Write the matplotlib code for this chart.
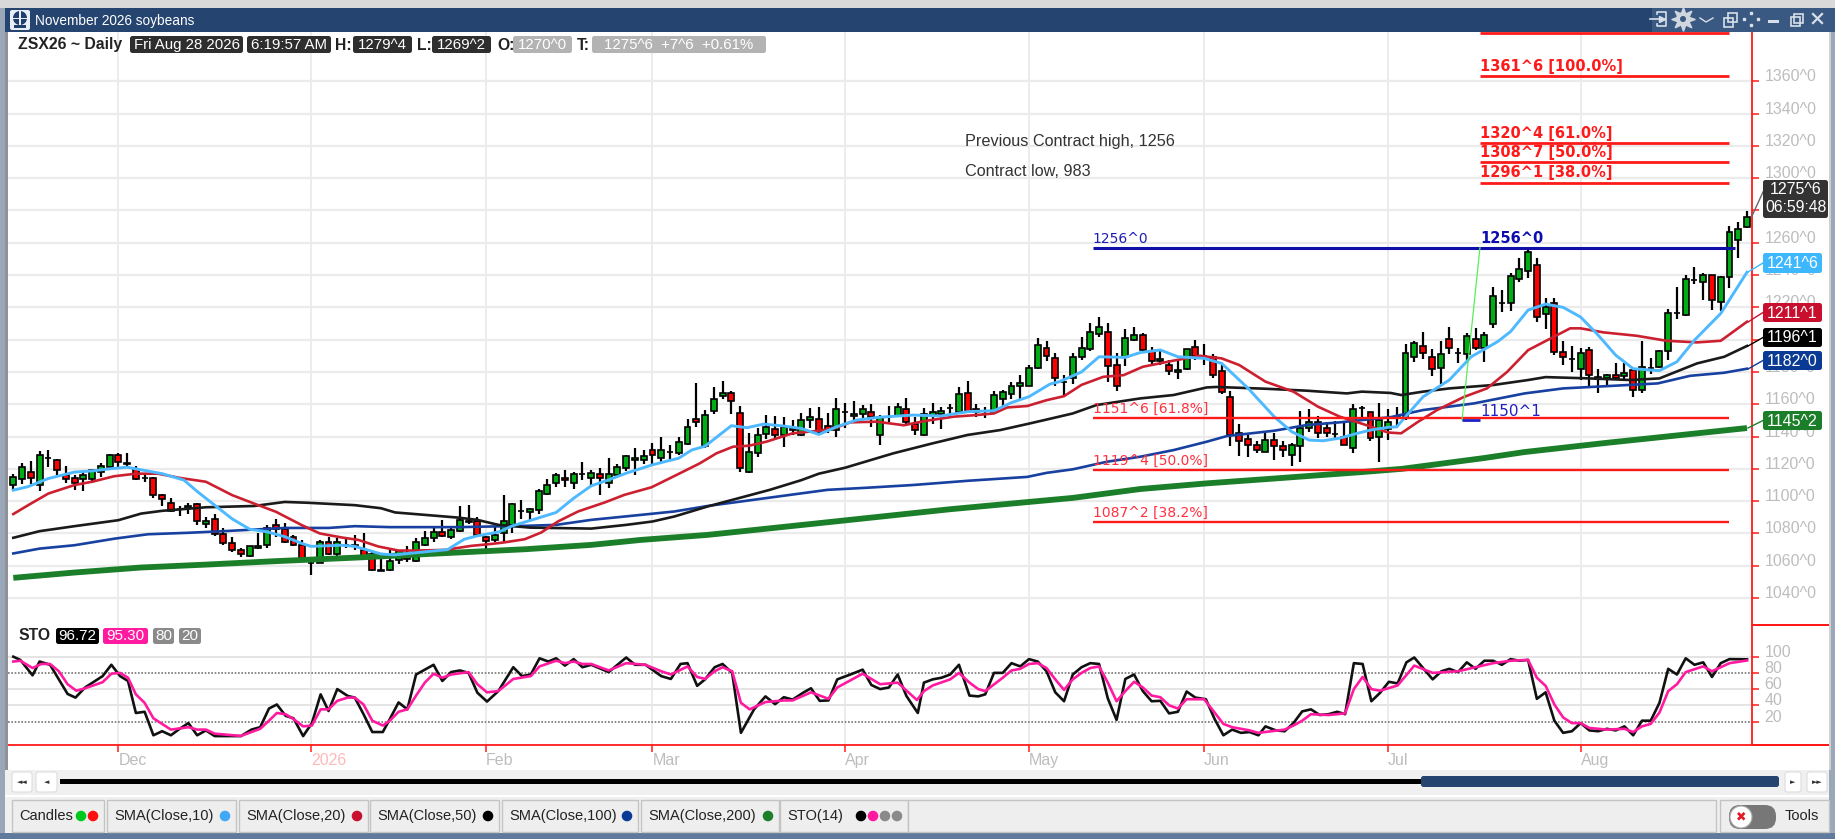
import numpy as np
import matplotlib
matplotlib.use('Agg')
import matplotlib.pyplot as plt
from matplotlib.patches import FancyBboxPatch, Rectangle, Circle
from matplotlib.transforms import ScaledTranslation

plt.rcParams['font.family'] = ['Liberation Sans', 'DejaVu Sans']

# daily candles
opens = [1110,1113.5,1118,1110,1127,1125.5,1116,1114.5,1113.5,1113.5,
         1118,1121,1128.5,1123.5,1120,1114.5,1114.5,1103.5,1099,1095,
         1095.5,1098,1086,1089,1079.5,1074,1069.5,1066,1071,1073,
         1085.5,1083,1077.5,1073,1062,1062,1074.5,1067,1073,1072,
         1070,1067,1057.5,1057.5,1063.5,1064,1063,1073,1077,1081,
         1077.5,1081.5,1087,1087.5,1077.5,1076,1080,1085,1094,1093,
         1094.5,1104.5,1111,1114.5,1111.5,1116.5,1114.5,1117,1111.5,1116,
         1120.5,1125.5,1125.5,1131.5,1127,1130.5,1129.5,1135.5,1151,1134,
         1156,1165,1167,1154.5,1118,1130,1141.5,1144.5,1141,1145.5,
         1141,1150,1151,1146.5,1144,1155,1152.5,1154,1155.5,1141,
         1152,1152.5,1157,1148,1141,1153,1154,1157.5,1155,1167,
         1157,1154,1155.5,1163,1166.5,1171,1171.5,1182.5,1195,1188.8,
         1174,1176,1189,1194,1203.5,1205,1184,1189,1200,1203,
         1193,1186.5,1184.5,1180,1182,1195.5,1190,1189,1180.5,1164.5,
         1142,1138.5,1135,1130.5,1138,1134,1128.5,1134,1145.5,1149,
         1145,1141.5,1140,1133,1157.5,1155,1140,1144.5,1151.5,1153,
         1189.5,1196,1189.5,1182.5,1200.3,1191.5,1191,1200.3,1195,1209.6,
         1222.4,1222.8,1237.3,1242.3,1246.2,1215.8,1222.8,1192.5,1187.8,1181.8,
         1193.5,1177,1176,1178,1177.4,1181,1168.8,1182.2,1183.2,1193,
         1216.2,1215.2,1237,1235.9,1240,1223.3,1238.5,1261.7,1270]
highs = [1117,1123.5,1125,1131,1131.5,1126,1122,1116,1118,1119,
         1123.5,1129,1129.5,1130,1121.5,1117,1115,1104.5,1102,1097,
         1099,1099,1090,1092,1083.5,1078,1071,1072,1080,1085,
         1089,1086.5,1079,1076,1065,1076,1078,1077,1076.5,1079,
         1080,1070,1064.5,1070,1070,1072.5,1077,1081.5,1084.5,1088.5,
         1084.5,1097,1097.5,1090,1078.5,1084,1104,1099,1101,1096,
         1107.5,1114,1117.5,1119,1118,1124.5,1119,1120.5,1127,1123,
         1128.5,1133,1131.5,1136,1139.5,1135,1139.5,1151,1173,1156.5,
         1170.5,1174.5,1168,1159,1142,1145,1153.5,1152.5,1152,1150,
         1154.5,1157.5,1158,1154.5,1164,1160.5,1162,1159.5,1160,1153.5,
         1159,1160.5,1164,1152,1157.5,1161,1158,1160,1170.5,1174.5,
         1160,1158,1168,1169,1173.5,1178,1184.5,1201,1199,1191.5,
         1178,1191.5,1201.5,1210.5,1214,1210.5,1192,1206.5,1208,1204,
         1195.5,1194,1187.5,1187.5,1194.5,1199.5,1197.5,1191,1184,1168,
         1147.5,1141,1137,1142,1142,1137,1136,1156,1157,1152.5,
         1149,1149.5,1149,1160,1159,1155,1161,1157,1158.5,1197.5,
         1199,1204.5,1194.5,1199,1207.6,1194.6,1204,1207,1205,1232.3,
         1231,1241,1250.3,1256.5,1250.3,1225.5,1225.5,1199,1196,1194.6,
         1195.2,1181.6,1179,1185.3,1185.3,1181,1199,1188.4,1193.5,1218.7,
         1232.3,1240,1244.7,1241,1240,1239.4,1270.3,1272.6,1279.5]
lows = [1107,1110.5,1110.5,1106,1121,1116,1111,1107,1106,1111,
        1115,1120,1120,1121,1113,1112,1102,1097,1093,1090.5,
        1092,1085.5,1083.5,1078.5,1073,1068.5,1065.5,1065.5,1070.5,1071,
        1078,1074,1072.5,1065,1054.5,1062,1066.5,1066,1071,1070,
        1066,1057,1056.5,1057,1061,1062.5,1062.5,1072.5,1075,1077.5,
        1076.5,1081,1086,1078.5,1070.5,1074.5,1075,1080,1089,1087.5,
        1092,1103.5,1109,1109,1107.5,1113,1109.5,1103.5,1108,1115.5,
        1118.5,1116,1123,1123,1124.5,1126,1128.5,1135,1146,1133,
        1154,1163,1154,1118,1117.5,1127.5,1138.5,1139,1133.5,1141,
        1140.5,1145,1141,1142,1140,1145,1150.5,1150.5,1146,1134.5,
        1149,1152,1148,1141,1140.5,1148,1144.5,1153,1155,1155.5,
        1152,1151.5,1154.5,1159,1163.5,1163.5,1171,1182,1186.5,1171.3,
        1165.5,1172.5,1187.5,1193,1201.5,1174,1168.5,1183.5,1199,1193,
        1185,1184,1178,1175.5,1181.5,1187.5,1184.5,1176.5,1166.5,1134,
        1128,1127.5,1129.5,1130.5,1125.5,1127.5,1121.5,1124,1143,1139,
        1140,1139,1134.5,1130,1150,1137,1124.5,1138,1146,1150,
        1186,1188,1177.5,1172.5,1191,1185.3,1185.3,1193.5,1186.3,1207.4,
        1217.3,1218,1235.9,1238,1211,1206.3,1190.5,1184,1180,1175,
        1170.8,1167,1170.8,1175,1175,1164.6,1167,1179,1182.2,1187.3,
        1212.5,1214.6,1234.4,1224.5,1218.3,1217.7,1231.7,1250.7,1269.25]
closes = [1115,1121,1114.5,1128.5,1127,1119,1113.5,1111.5,1116,1119,
          1122,1128.5,1124.5,1123,1113.5,1114.5,1103.5,1101.5,1094,1095,
          1097,1088,1088,1079.5,1074,1070,1067,1072,1072.5,1083.5,
          1083,1075,1073,1065,1062,1074.5,1067,1074.5,1073,1073,
          1066,1057.5,1057,1063,1069,1066,1074.5,1077,1081,1078.5,
          1082,1088.5,1087.5,1079,1075.5,1079,1087.5,1098.5,1094,1095,
          1106.5,1110,1116,1113,1117,1116.5,1117.5,1114.5,1117,1121,
          1128,1127,1128,1128.5,1131.5,1130.5,1136.5,1146,1149,1153.5,
          1163,1167,1162,1120.5,1130.5,1141,1146,1141,1146,1144,
          1150,1152,1143,1144,1157,1155.5,1154,1157,1152,1152,
          1152,1158,1149,1144,1154,1155,1156,1157.5,1166.5,1155.5,
          1155.5,1154,1165.5,1167.5,1171,1173,1182.5,1196.5,1190,1176,
          1174,1189.5,1195,1205,1208,1183.5,1171,1201,1203,1193.5,
          1186.5,1188,1180.5,1181.5,1194.5,1190,1190,1178,1167.5,1141,
          1137,1135,1131.5,1138,1134,1131.5,1134.5,1145.5,1149,1142.5,
          1142,1141.5,1134.5,1157,1157.5,1139,1150,1149,1152,1192,
          1198,1192,1182,1191,1195,1191.5,1202,1195,1203,1227,
          1222.4,1239.4,1244,1254,1213.8,1220,1192.5,1189,1187.8,1192,
          1178,1175.6,1178,1176.4,1179.5,1168.8,1183.2,1182.2,1193,1216.2,
          1216.2,1237.5,1237,1240,1224.5,1238.5,1266.4,1268.5,1275.75]

# moving averages, read at the bends of each line
sma10_x = [1,2.7,5,8,10,12,14,16,18,20.5,22,24,26,28,30,32,34,35,38.5,40,43,44.5,50.6,52.5,54,56.5,58,60.5,63,65,
           67,69,71,74,77,78.5,80,83,84.8,86.7,89,91,93,95,97.3,100,103.8,106.9,110,113,115,117,119.4,120.5,123,125,128,
           129.7,132,134,137,139,142,145,147,149,150.6,152.5,154.5,156,158,159,160,162,165,167.5,170.5,172,174,176,178,
           180,182,184,186,189,191,193,196,199]
sma10_y = [1106.8,1109,1114,1118,1118.7,1120,1121,1119,1117,1113,1106,1097.5,1089,1082.6,1081,1078,1073.7,1072,1072.7,1072,1067.3,1066.7,1070,1076.4,1078.5,1081,1084.7,1088.8,1093,1101.8,
           1109.5,1113.2,1117.3,1122.5,1126.6,1131.7,1134,1146.7,1145.5,1147.7,1146.5,1145,1141.3,1146,1150.2,1152,1153.3,1152.7,1155.4,1156,1161,1164.7,1172.5,1174,1180,1189.4,1189,
           1192,1193.6,1189.4,1188.4,1185.3,1170,1152.3,1143,1137.8,1137.4,1139,1142,1144,1145.7,1146,1152.3,1164.6,1175,1189.4,1198.7,1205,1218.3,1222,1220,
           1214,1202.8,1190.4,1182,1180.8,1186.3,1199.7,1216.2,1241.75]
sma20_x = [1,2.7,5,8,10,12.5,15,17.5,20,23,26,28.5,31,34,36,38.5,40.4,42.7,45,47,50.3,53.3,55.6,57,59.4,61.3,63.2,65.5,68.5,70.8,73.9,77,
           79.4,81.3,83.2,85,87,90,93,94.7,96.6,99.6,102.7,105.3,108.4,111,113,114.5,116.8,119,121,123,125.5,127.8,130,133.5,136.5,139,141,144,147.2,150,152.5,155,158,
           159.5,161.4,163.6,166.7,169.3,171.6,174,176.2,178.8,180,182.6,186.4,189.8,193.3,196,199]
sma20_y = [1092,1097.5,1104.7,1110,1112,1115.4,1117,1117,1114.4,1112,1103.7,1098.5,1093.4,1085,1080,1077.5,1076,1071.9,1069.4,1069.4,1069.8,1072.3,1073.5,1074.4,1076.4,1080.6,1087.4,1093.6,1099.1,1103.9,1108.6,1116.9,
           1123.4,1129.6,1133.7,1134.3,1136.8,1142,1143.6,1145,1148.8,1149.2,1147,1149.8,1152.3,1153.3,1154.3,1158,1158.9,1162.5,1165,1172,1177,1178,1183.2,1187,1190,1188.4,1184.3,1174,1167.8,1158.5,1152.3,1148,1142.5,
           1142,1149,1156.4,1164.6,1169.8,1180,1193.5,1199.7,1207,1207,1204.5,1202.4,1199.3,1198.3,1199.3,1211.1]
sma50_x = [1,4,8,13,15.6,18,23,28.5,32,34.6,40,43,44.6,48,51.8,54,56.4,60,67,71,74,76.5,80.3,87.4,91,93,96,101.5,106,110,113.7,117,119.4,122,124.7,129.7,133.5,137.3,138.4,144,148.7,153.3,155,158.3,
           159.5,162,165,170,174,176,181,185.7,189,193.3,196.4,199]
sma50_y = [1077.3,1081.4,1084.5,1088.2,1092.3,1094,1096.2,1097,1099.5,1099,1097.5,1095.6,1093,1091.5,1089.8,1088.4,1085.3,1083.6,1083,1085.3,1087.4,1090.5,1096.7,1107,1113,1117,1120.7,1129.6,1135.8,1141,1144,1148,1151,1154.3,1159.5,1163.6,1165.7,1170.4,1170.7,1169.6,1168.4,1166.7,1167.8,1167,
           1165.7,1167.8,1169.8,1171.9,1175,1176.8,1176,1175,1176,1185.3,1189.4,1196.1]
sma100_x = [1,4,8,12.6,16.4,21,25,28.5,32,37,40,44,51.8,59.4,63,67,71.6,76.5,80.3,94,98.5,103.8,110,116.8,119,122,125.9,129.7,133.5,137.3,139.6,145,148.7,152.5,158.3,162,167.8,173.6,178,184,188.8,192.5,196.4,199]
sma100_y = [1067.6,1070.6,1072.7,1076.8,1079.5,1080.4,1081.4,1082.4,1083.4,1083.4,1084.5,1083.9,1083.9,1084.7,1085.3,1088.4,1090.9,1093.6,1097,1107,1108.3,1110,1112.6,1115,1117.5,1119.7,1124.4,1127.5,1131.6,1136.8,1140.3,1143.6,1147.1,1148.8,1152,1156.4,1160.5,1166.7,1169.8,1171.5,1172.9,1177.6,1179.5,1182]
sma200_x = [1,8,15.6,23,30.8,40,51.8,59.4,67,72.7,80.3,95,108,122,129.7,137.3,145,155,159.6,169,173.6,182.8,199]
sma200_y = [1052.5,1055.8,1058.9,1060.7,1062.8,1065,1068.2,1070.2,1072.9,1076,1079.1,1087.5,1095,1102,1107.5,1111,1114,1118,1120,1126.7,1130.4,1136,1145.25]

# stochastic, read at the bends
sto_k_x = [1,1.8,3.2,4,5.2,6.2,7.2,8.1,9.2,11.2,12.2,13.2,14.1,15,16,17,18,19,20,21,22,23,24,27,28.2,29.2,30.2,31.1,32.1,33,34.1,35.1,36.1,37,38,39.2,40,41,42,43.2,44,45,46,47,49,50,51,52,53,54,55.1,56.4,58.1,59.1,60.1,61.1,62.1,63,64,65,66,67,69,71,72,73.2,75,76.1,77.2,78,79.1,80,81.1,82,83.1,84.1,85.6,86.9,88,89,90,91.2,92.1,93.1,94.1,95.1,96.6,98,99,100,101,102,103,
           104.3,105,106,107,108,109,110.2,111.2,112,113,114,115,116,117,118,119,120,121,122,123,124,125,126,127,128,129,130,131,132,133,134,135,136,137.2,138.2,139.2,140.2,141.2,142.2,143.2,144,145.2,146.2,147.2,148.2,149.2,150.2,151.2,152.2,153.1,154.1,155.1,156.1,157.1,158.1,159.1,160.1,161,162,163.1,164.1,165,166,167,168,169,170,171,172,173,174,175,176,177,178,179,180,181,182,183,184,185,186,187,188,189,190,191,192,193,194,195,196,197,199]
sto_k_y = [100,96,77,94,90,72,54,49.5,62,76,90,76,70,30.5,32,3,8,3,11,18,3,9,2,2,10,13,36,41,27,24,2,18,53.5,33,60,51.5,49.5,29,7,7,23,43.5,35,78,90,70,81,83,80,55.5,44.6,57.6,87,76,78,98,94,98,89,97,87,90,81,99,90,90,76,72.5,91,92,64,72,87,91,80,6,35,51,41.4,50,47,55.5,61,45.5,46,72,78,84,65,60,62,78,51.5,
           30.5,68,72,74,78,90,52,51,53.5,80,80,92,88,97,94,82,56,45,78,87,92,91,48.5,22,72.5,78,57.5,45,45.5,30,32,57,49.5,47.5,23,3,10,6,7,3,14,9,8,18,32.5,35,28,29,32,29,92,91,45,55.5,69,67,93,99,86,72,82,85,81,93,85,95,95,90,97,95,96,48,56,21,6,8,18,9,8,11,9,14,3,21,21,43,85,78,98,90,93,75,92,97,96.72]
sto_d_x = [1,1.8,3.2,4.2,5.2,6.2,7.2,8.2,9.2,11.2,12.2,13.2,14.1,15,16,17,18,19,21,22,23,24,27,28.2,29.2,30.2,31.1,32.1,33,34.1,35.1,36.1,37,38,39.2,40,41,42,43.2,44,45,46,47,48,49,50,51,53,54,55.1,56.4,58.1,60.1,61.1,63,64,65,66,67,69,71,73.2,75,76.1,78,79.1,80,81.1,82,83.1,84.1,85.1,86.9,89,90,92.1,94.1,95.1,98,100,102,
           104.2,105,106,108,109,110.2,111.2,112,114,115,116,117,118,119,120,121,122,123,124,125,126,127,128,129,130,131,132,133,134,135,137,138.2,139.2,140.2,142.2,143.2,146.2,147.2,148.2,149.2,151.2,153.1,154.1,155.1,156.1,157.1,159.1,161,163.1,166,168,170,172,174,175,176,177,178,179,180,181,183,185,186,187,188,189,190,191,192,194,195,196,197,199]
sto_d_y = [94,95,86,91,91,82,66,58,61,68.5,79,80,74,53.5,43,24,17,10,13,10,10,5,2.2,7,11,21,30.5,29,23,14,15,35,35,45.5,49.5,49.5,41,21,15,21,32,35,52,68,79,74,78,81,66,56,57.6,72.5,76,88,95,92,94,91,91,83,92,90,82,78,88,75,72.5,82,87,82,43,35,44,46,46,56,48,62,79,66,68,
           46.5,57.5,64.5,72,80,68,60,57.5,74,83,85,91,92,86,72,59,72,80,86,88,68,45,57.5,69,62,52,50,40,36,47.5,47.5,31,17,13,9,6,10,15,21,29,28,30,60,75,60,58,64.5,89,80,82,87,92,95,96,74,64,41,25,18,18,12,10,11,7,14,17,31,57.5,66,81,88,82,87,92,95.3]

# drawn levels on the chart
fib_up_levels = [1363, 1321.5, 1309.8, 1297.2]
fib_up_labels = ['1361^6 [100.0%]', '1320^4 [61.0%]', '1308^7 [50.0%]', '1296^1 [38.0%]']
fib_low_levels = [1151.75, 1119.5, 1087.25]
fib_low_labels = ['1151^6 [61.8%]', '1119^4 [50.0%]', '1087^2 [38.2%]']
high_level, low_level = 1256.9, 1150.125
month_bars = [13, 35, 55, 74, 96, 117, 137, 158, 180]
month_names = ['Dec', '2026', 'Feb', 'Mar', 'Apr', 'May', 'Jun', 'Jul', 'Aug']
price_ticks = list(range(1040, 1361, 20))
sto_ticks = [20, 40, 60, 80, 100]

W, H = 1835, 839
fig = plt.figure(figsize=(W / 100, H / 100), dpi=100, facecolor='white')


def make_ax(left, top, right, bottom):
    return fig.add_axes([left / W, 1 - bottom / H, (right - left) / W, (bottom - top) / H])


ax = make_ax(8, 32, 1752, 625)
sto = make_ax(8, 625, 1752, 745)
xlim = (0.395, 199.57)
GRID = '#ebebeb'
RED = '#ff1a1a'
GREY_TXT = '#bdbdbd'

bars = np.arange(1, len(closes) + 1)
o, h, l, c = map(np.array, (opens, highs, lows, closes))
up = c >= o

ax.set_xlim(xlim)
ax.set_ylim(1023.3, 1390.5)
ax.vlines(month_bars, 1023.3, 1390.5, color=GRID, lw=1.3, zorder=0)
ax.hlines(price_ticks, *xlim, color=GRID, lw=1.6, zorder=0)

ax.vlines(bars, l, h, color='black', lw=1.6, zorder=2)
ax.bar(bars[up], (c - o)[up], bottom=o[up], width=0.68, color='#00ad14', edgecolor='black', lw=1.2, zorder=3)
ax.bar(bars[~up], (o - c)[~up], bottom=c[~up], width=0.68, color='#ff0000', edgecolor='black', lw=1.2, zorder=3)

ax.plot(sma200_x, sma200_y, color='#1b7f2a', lw=4.2, zorder=4, solid_capstyle='butt')
ax.plot(sma100_x, sma100_y, color='#1740a0', lw=1.9, zorder=5)
ax.plot(sma50_x, sma50_y, color='#1a1a1a', lw=1.9, zorder=5)
ax.plot(sma20_x, sma20_y, color='#cc2030', lw=1.9, zorder=5)
ax.plot(sma10_x, sma10_y, color='#4fb9ff', lw=2.1, zorder=6)

# fib levels and swing line
fib_x0, fib_x1, fib_low_x0 = 168.5, 197.0, 124.3
for lev, txt in zip(fib_up_levels, fib_up_labels):
    ax.hlines(lev, fib_x0, fib_x1, color=RED, lw=2.0, zorder=7)
    ax.text(fib_x0, lev + 1.5, txt, color=RED, fontsize=10.5, fontweight='bold',
            family=['DejaVu Sans'], va='bottom', ha='left', zorder=8)
ax.hlines(1390, fib_x0, fib_x1, color=RED, lw=2.0, zorder=7)
for lev, txt in zip(fib_low_levels, fib_low_labels):
    ax.hlines(lev, fib_low_x0, fib_x1, color=RED, lw=1.7, zorder=7)
    ax.text(fib_low_x0, lev + 1.2, txt, color='#ff3040', fontsize=10, family=['DejaVu Sans'],
            va='bottom', ha='left', zorder=8)
ax.hlines(high_level, fib_low_x0, 197.6, color='#1010a8', lw=2.2, zorder=7)
ax.text(fib_low_x0, high_level + 1.2, '1256^0', color='#1c1cb4', fontsize=10, family=['DejaVu Sans'], va='bottom', zorder=8)
ax.text(fib_x0, high_level + 0.8, '1256^0', color='#0c0cb0', fontsize=10.5, fontweight='bold', family=['DejaVu Sans'], va='bottom', zorder=8)
ax.plot([166.45, 168.5], [low_level, high_level], color='#58ee58', lw=0.9, zorder=7)
ax.hlines(low_level, 166.45, 168.5, color='#2020c0', lw=2.0, zorder=8)
ax.text(fib_x0, low_level + 0.8, '1150^1', color='#2020c0', fontsize=11, family=['DejaVu Sans'], va='bottom', zorder=8)

ax.text(109.7, 1323, 'Previous Contract high, 1256', color='#333333', fontsize=11.7, va='center')
ax.text(109.7, 1304.4, 'Contract low, 983', color='#333333', fontsize=11.7, va='center')

# stochastic pane
sto.set_xlim(xlim)
sto.set_ylim(-9, 139.1)
sto.vlines(month_bars, -9, 139.1, color=GRID, lw=1.3, zorder=0)
sto.hlines([100, 60, 40], *xlim, color='#e4e4e4', lw=1.4, zorder=0)
sto.hlines([80, 20], *xlim, color='#777777', lw=1.2, linestyles=(0, (1, 1)), zorder=1)
sto.plot(sto_k_x, sto_k_y, color='#111111', lw=1.9, zorder=3)
sto.plot(sto_d_x, sto_d_y, color='#ff1aa0', lw=1.9, zorder=4)

# axes: red frame, grey labels sitting just above their ticks
for a in (ax, sto):
    for s in ('top', 'left', 'bottom'):
        a.spines[s].set_visible(False)
    a.spines['right'].set_color(RED)
    a.spines['right'].set_linewidth(1.3)
    a.yaxis.tick_right()
    a.tick_params(axis='y', colors=RED, length=5, width=1.1, pad=4)
shift = ScaledTranslation(0, 6 / 100, fig.dpi_scale_trans)
ax.set_yticks(price_ticks)
ax.set_yticklabels(['%d^0' % t for t in price_ticks], fontsize=11.5, color=GREY_TXT)
sto.set_yticks(sto_ticks)
sto.set_yticklabels([str(t) for t in sto_ticks], fontsize=11.5, color=GREY_TXT)
for lab in ax.get_yticklabels() + sto.get_yticklabels():
    lab.set_transform(lab.get_transform() + shift)

ax.set_xticks([])
sto.spines['bottom'].set_visible(True)
sto.spines['bottom'].set_color(RED)
sto.spines['bottom'].set_linewidth(1.3)
sto.set_xticks(month_bars)
sto.set_xticklabels(month_names, fontsize=11.5, ha='left')
sto.tick_params(axis='x', color=RED, length=5, width=1.1, pad=0.5)
for lab, name in zip(sto.get_xticklabels(), month_names):
    lab.set_color('#ffb9b9' if name == '2026' else GREY_TXT)

# window furniture and labels, drawn in pixel coordinates
ui = fig.add_axes([0, 0, 1, 1], facecolor='none')
ui.set_xlim(0, W)
ui.set_ylim(H, 0)
ui.axis('off')


def rect(x0, y0, x1, y1, color, z=1, ec='none', lw=0):
    ui.add_patch(Rectangle((x0, y0), x1 - x0, y1 - y0, fc=color, ec=ec, lw=lw, zorder=z))


def box(x0, y0, x1, y1, color, z=3, ec='none', lw=0, r=2.5):
    ui.add_patch(FancyBboxPatch((x0, y0), x1 - x0, y1 - y0, boxstyle='round,pad=0,rounding_size=%g' % r,
                                fc=color, ec=ec, lw=lw, zorder=z))


rect(0, 0, W, 8, '#d9d9d9')
rect(0, 8, W, 32, '#25446f')
rect(1652, 8, W, 32, '#3a5982')
rect(0, 8, 5, 839, '#9aa7b8')
rect(5, 32, 8, 770, '#8f9296')
rect(1829, 32, W, 839, '#9aa7b8')
rect(1829, 32, 1831, 770, '#d0d0d0', z=2)
rect(0, 833, W, 839, '#5f7a9c')
rect(5, 770, 1829, 833, '#f0f0f0')
rect(5, 795, 1829, 797, '#ffffff')

# title bar
box(10, 10, 30, 30, '#e8eef5', r=2)
ui.add_patch(Circle((20, 18), 7, fc='#1f3e6e', ec='none', zorder=4))
rect(13, 17.5, 27, 19, '#e8eef5', z=5)
rect(19.2, 11, 20.8, 25, '#e8eef5', z=5)
rect(14, 25, 26, 28, '#1f3e6e', z=5)
ui.text(35, 20.5, 'November 2026 soybeans', color='white', fontsize=9.8, va='center')
ICON = '#d8dfe8'
ui.plot([1650, 1665], [19, 19], color=ICON, lw=1.2, zorder=5)
ui.plot([1657, 1657, 1666, 1666, 1657, 1657], [14, 12, 12, 26, 26, 24], color=ICON, lw=1.2, zorder=5)
ui.plot([1662], [19], marker='>', color=ICON, ms=4, zorder=5)
ui.plot([1683], [19], marker=(8, 1, 0), color='#d0d6de', ms=17, zorder=5)
ui.add_patch(Circle((1683, 19), 7, fc='#d0d6de', ec='none', zorder=5))
ui.add_patch(Circle((1683, 19), 3, fc='#3a5982', ec='none', zorder=6))
ui.plot([1700, 1706, 1713], [18, 22, 18], color=ICON, lw=1, zorder=5)
ui.add_patch(Rectangle((1724, 18), 9, 9, fc='none', ec=ICON, lw=1.2, zorder=5))
ui.add_patch(Rectangle((1728, 13), 9, 9, fc='none', ec=ICON, lw=1.2, zorder=5))
ui.plot([1751, 1751, 1744, 1758], [13, 25, 19, 19], marker='s', ms=1.8, ls='none', color=ICON, zorder=5)
rect(1768, 20, 1779, 23, ICON, z=5)
ui.add_patch(Rectangle((1791, 17), 9, 9, fc='none', ec=ICON, lw=1.2, zorder=5))
ui.add_patch(Rectangle((1794, 14), 9, 9, fc='none', ec=ICON, lw=1.2, zorder=5))
ui.plot([1813, 1822], [14, 23], color=ICON, lw=1.6, zorder=5)
ui.plot([1813, 1822], [23, 14], color=ICON, lw=1.6, zorder=5)

# header strip
DARK, LIGHT = '#2e2e2e', '#b3b3b3'
ui.text(18, 45, 'ZSX26 ~ Daily', color='#222222', fontsize=11.3, fontweight='bold', va='center')
for x0, x1, col, txt in [(130, 243, DARK, 'Fri Aug 28 2026'), (247, 331, DARK, '6:19:57 AM'),
                         (353, 412, DARK, '1279^4'), (432, 491, DARK, '1269^2'),
                         (513, 572, LIGHT, '1270^0'), (592, 766, LIGHT, '1275^6  +7^6  +0.61%')]:
    box(x0, 36, x1, 53, col)
    ui.text((x0 + x1) / 2, 45, txt, color='white', fontsize=10.8, va='center', ha='center', zorder=4)
for x, txt in [(335, 'H:'), (417, 'L:'), (497, 'O:'), (577, 'T:')]:
    ui.text(x, 45, txt, color='#222222', fontsize=11.3, fontweight='bold', va='center')

# STO strip
ui.text(18, 636, 'STO', color='#222222', fontsize=11.3, fontweight='bold', va='center')
for x0, x1, col, txt in [(56, 99, 'black', '96.72'), (103, 148, '#ff1aa0', '95.30'),
                         (153, 174, '#8a8a8a', '80'), (179, 201, '#8a8a8a', '20')]:
    box(x0, 628, x1, 644, col)
    ui.text((x0 + x1) / 2, 636.5, txt, color='white', fontsize=11, va='center', ha='center', zorder=4)

# right axis strip
rect(1752, 624.3, 1829, 625.7, RED, z=2)
rect(1752, 744.3, 1829, 745.7, RED, z=2)
for y0, y1, y_end, col, txt in [(253, 273, 272, '#3db8ff', '1241^6'), (303, 322, 322, '#c8102e', '1211^1'),
                                (328, 347, 346, 'black', '1196^1'), (351, 370, 369, '#0b3a94', '1182^0'),
                                (411, 430, 428, '#1b7f2a', '1145^2')]:
    ui.plot([1748, 1763], [y_end, (y0 + y1) / 2], color=col, lw=1, zorder=2)
    box(1763, y0, 1822, y1, col)
    ui.text(1792.5, (y0 + y1) / 2 + 0.5, txt, color='white', fontsize=11.5, va='center', ha='center', zorder=4)
ui.plot([1752, 1763], [216, 192], color='#666666', lw=1, zorder=2)
box(1763, 180, 1828, 218, '#333333')
ui.text(1795.5, 190, '1275^6', color='white', fontsize=11.5, va='center', ha='center', zorder=4)
ui.text(1795.5, 208, '06:59:48', color='white', fontsize=11.3, va='center', ha='center', zorder=4)

# scroll bar
for x0, x1, mark in [(12, 32, '\u25c4\u25c4'), (36, 57, '\u25c4'), (1785, 1801, '\u25ba'), (1807, 1827, '\u25ba\u25ba')]:
    box(x0, 772, x1, 792, 'white', ec='#dddddd', lw=0.8)
    ui.text((x0 + x1) / 2, 782, mark, color='#333333', fontsize=5, va='center', ha='center', family=['DejaVu Sans'], zorder=4)
rect(60, 778.5, 1421, 783.5, 'black', z=3)
box(1421, 776, 1779, 787, '#25446f')

# study tabs
tabs = [(12, 104, 'Candles', ['#00c81e', '#ff1010']),
        (107, 236, 'SMA(Close,10)', ['#3fa9f5']),
        (239, 368, 'SMA(Close,20)', ['#c8102e']),
        (370, 499, 'SMA(Close,50)', ['black']),
        (502, 638, 'SMA(Close,100)', ['#0b3a94']),
        (641, 779, 'SMA(Close,200)', ['#1b7f2a']),
        (780, 908, 'STO(14)', ['black', '#ff1aa0', '#8a8a8a', '#8a8a8a'])]
for x0, x1, name, dots in tabs:
    rect(x0, 800, x1, 832, '#eeeeee', z=2, ec='#c4c4c4', lw=1)
    ui.text(x0 + 7, 816, name, color='#222222', fontsize=10.5, va='center', zorder=4)
    for i, col in enumerate(dots):
        cx = x1 - 11 - 12 * (len(dots) - 1 - i)
        ui.add_patch(Circle((cx, 816), 5.3, fc=col, ec='none', zorder=4))
rect(908, 800, 1716, 832, '#eeeeee', z=2, ec='#c4c4c4', lw=1)
rect(1720, 800, 1829, 832, '#eeeeee', z=2, ec='#c4c4c4', lw=1)
box(1729, 805, 1776, 829, '#777777', r=11)
ui.add_patch(Circle((1741, 817), 11, fc='white', ec='#aaaaaa', lw=0.8, zorder=4))
ui.text(1741, 817, '\u2716', color='#e01b24', fontsize=9, va='center', ha='center', family=['DejaVu Sans'], zorder=5)
ui.text(1785, 816, 'Tools', color='#222222', fontsize=10.5, va='center', zorder=4)

fig.savefig('out.png', dpi=100)
